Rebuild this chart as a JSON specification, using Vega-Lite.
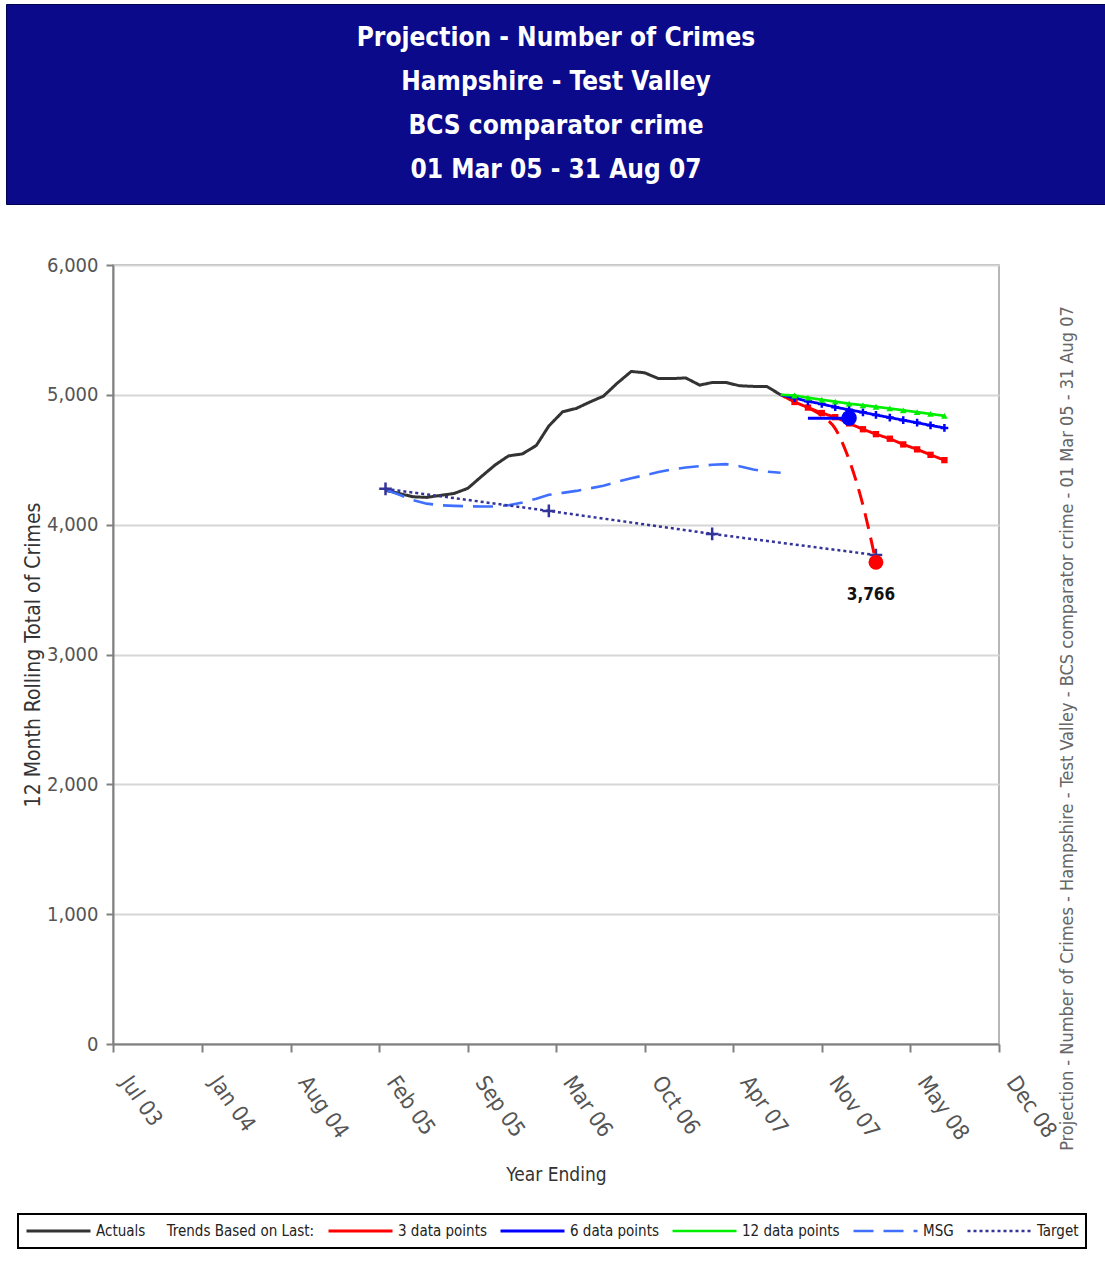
{
  "$schema": "https://vega.github.io/schema/vega-lite/v6.json",
  "padding": {"left": 5, "top": 3, "right": 0, "bottom": 0},
  "background": "white",
  "spacing": 61,
  "center": true,
  "bounds": "flush",
  "config": {"font": "DejaVu Sans Condensed"},
  "vconcat": [
    {
      "width": 1100,
      "height": 200,
      "view": {"fill": "#0a0a8a", "stroke": "#000050", "strokeWidth": 1},
      "data": {"values": [
        {"line": 1, "text": "Projection - Number of Crimes"},
        {"line": 2, "text": "Hampshire - Test Valley"},
        {"line": 3, "text": "BCS comparator crime"},
        {"line": 4, "text": "01 Mar 05 - 31 Aug 07"}
      ]},
      "mark": {"type": "text", "font": "DejaVu Sans Condensed", "fontWeight": "bold", "fontSize": 26, "color": "white", "baseline": "middle"},
      "encoding": {
        "y": {"field": "line", "type": "ordinal", "scale": {"type": "point", "padding": 0.77}, "axis": null},
        "text": {"field": "text"}
      }
    },
    {
      "width": 886,
      "height": 779,
      "view": {"stroke": "#a0a0a0", "strokeWidth": 1.5},
      "data": {
        "format": {"parse": {"date": "utc:'%Y-%m-%d'"}},
        "values": [
          {"series": "Actuals", "date": "2005-03-01", "value": 4265},
          {"series": "Actuals", "date": "2005-04-01", "value": 4240},
          {"series": "Actuals", "date": "2005-05-01", "value": 4215},
          {"series": "Actuals", "date": "2005-06-01", "value": 4210},
          {"series": "Actuals", "date": "2005-07-01", "value": 4225},
          {"series": "Actuals", "date": "2005-08-01", "value": 4240},
          {"series": "Actuals", "date": "2005-09-01", "value": 4280},
          {"series": "Actuals", "date": "2005-10-01", "value": 4370},
          {"series": "Actuals", "date": "2005-11-01", "value": 4460},
          {"series": "Actuals", "date": "2005-12-01", "value": 4530},
          {"series": "Actuals", "date": "2006-01-01", "value": 4545},
          {"series": "Actuals", "date": "2006-02-01", "value": 4610},
          {"series": "Actuals", "date": "2006-03-01", "value": 4760},
          {"series": "Actuals", "date": "2006-04-01", "value": 4870},
          {"series": "Actuals", "date": "2006-05-01", "value": 4895},
          {"series": "Actuals", "date": "2006-06-01", "value": 4945},
          {"series": "Actuals", "date": "2006-07-01", "value": 4990},
          {"series": "Actuals", "date": "2006-08-01", "value": 5090},
          {"series": "Actuals", "date": "2006-09-01", "value": 5180},
          {"series": "Actuals", "date": "2006-10-01", "value": 5170},
          {"series": "Actuals", "date": "2006-11-01", "value": 5125},
          {"series": "Actuals", "date": "2006-12-01", "value": 5125},
          {"series": "Actuals", "date": "2007-01-01", "value": 5130},
          {"series": "Actuals", "date": "2007-02-01", "value": 5075},
          {"series": "Actuals", "date": "2007-03-01", "value": 5095},
          {"series": "Actuals", "date": "2007-04-01", "value": 5095},
          {"series": "Actuals", "date": "2007-05-01", "value": 5070},
          {"series": "Actuals", "date": "2007-06-01", "value": 5065},
          {"series": "Actuals", "date": "2007-07-01", "value": 5065},
          {"series": "Actuals", "date": "2007-08-01", "value": 5000},

          {"series": "MSG", "date": "2005-03-01", "value": 4270},
          {"series": "MSG", "date": "2005-04-01", "value": 4230},
          {"series": "MSG", "date": "2005-05-01", "value": 4190},
          {"series": "MSG", "date": "2005-06-01", "value": 4162},
          {"series": "MSG", "date": "2005-07-01", "value": 4150},
          {"series": "MSG", "date": "2005-08-01", "value": 4145},
          {"series": "MSG", "date": "2005-09-01", "value": 4142},
          {"series": "MSG", "date": "2005-10-01", "value": 4140},
          {"series": "MSG", "date": "2005-11-01", "value": 4140},
          {"series": "MSG", "date": "2005-12-01", "value": 4150},
          {"series": "MSG", "date": "2006-01-01", "value": 4170},
          {"series": "MSG", "date": "2006-02-01", "value": 4200},
          {"series": "MSG", "date": "2006-03-01", "value": 4230},
          {"series": "MSG", "date": "2006-04-01", "value": 4245},
          {"series": "MSG", "date": "2006-05-01", "value": 4260},
          {"series": "MSG", "date": "2006-06-01", "value": 4280},
          {"series": "MSG", "date": "2006-07-01", "value": 4300},
          {"series": "MSG", "date": "2006-08-01", "value": 4330},
          {"series": "MSG", "date": "2006-09-01", "value": 4358},
          {"series": "MSG", "date": "2006-10-01", "value": 4380},
          {"series": "MSG", "date": "2006-11-01", "value": 4405},
          {"series": "MSG", "date": "2006-12-01", "value": 4425},
          {"series": "MSG", "date": "2007-01-01", "value": 4440},
          {"series": "MSG", "date": "2007-02-01", "value": 4450},
          {"series": "MSG", "date": "2007-03-01", "value": 4462},
          {"series": "MSG", "date": "2007-04-01", "value": 4466},
          {"series": "MSG", "date": "2007-05-01", "value": 4450},
          {"series": "MSG", "date": "2007-06-01", "value": 4425},
          {"series": "MSG", "date": "2007-07-01", "value": 4408},
          {"series": "MSG", "date": "2007-08-01", "value": 4400},

          {"series": "Target", "date": "2005-03-01", "value": 4276},
          {"series": "Target", "date": "2006-03-01", "value": 4106},
          {"series": "Target", "date": "2007-03-01", "value": 3929},
          {"series": "Target", "date": "2008-03-01", "value": 3766},

          {"series": "3 data points", "date": "2007-08-01", "value": 5000},
          {"series": "3 data points", "date": "2007-09-01", "value": 4945},
          {"series": "3 data points", "date": "2007-10-01", "value": 4902},
          {"series": "3 data points", "date": "2007-11-01", "value": 4860},
          {"series": "3 data points", "date": "2007-12-01", "value": 4828},
          {"series": "3 data points", "date": "2008-01-01", "value": 4780},
          {"series": "3 data points", "date": "2008-02-01", "value": 4735},
          {"series": "3 data points", "date": "2008-03-01", "value": 4697},
          {"series": "3 data points", "date": "2008-04-01", "value": 4662},
          {"series": "3 data points", "date": "2008-05-01", "value": 4618},
          {"series": "3 data points", "date": "2008-06-01", "value": 4580},
          {"series": "3 data points", "date": "2008-07-01", "value": 4538},
          {"series": "3 data points", "date": "2008-08-01", "value": 4497},

          {"series": "6 data points", "date": "2007-08-01", "value": 5000},
          {"series": "6 data points", "date": "2007-09-01", "value": 4975},
          {"series": "6 data points", "date": "2007-10-01", "value": 4950},
          {"series": "6 data points", "date": "2007-11-01", "value": 4930},
          {"series": "6 data points", "date": "2007-12-01", "value": 4905},
          {"series": "6 data points", "date": "2008-01-01", "value": 4885},
          {"series": "6 data points", "date": "2008-02-01", "value": 4865},
          {"series": "6 data points", "date": "2008-03-01", "value": 4845},
          {"series": "6 data points", "date": "2008-04-01", "value": 4825},
          {"series": "6 data points", "date": "2008-05-01", "value": 4805},
          {"series": "6 data points", "date": "2008-06-01", "value": 4785},
          {"series": "6 data points", "date": "2008-07-01", "value": 4765},
          {"series": "6 data points", "date": "2008-08-01", "value": 4745},

          {"series": "12 data points", "date": "2007-08-01", "value": 5000},
          {"series": "12 data points", "date": "2007-09-01", "value": 4995},
          {"series": "12 data points", "date": "2007-10-01", "value": 4978},
          {"series": "12 data points", "date": "2007-11-01", "value": 4962},
          {"series": "12 data points", "date": "2007-12-01", "value": 4948},
          {"series": "12 data points", "date": "2008-01-01", "value": 4932},
          {"series": "12 data points", "date": "2008-02-01", "value": 4920},
          {"series": "12 data points", "date": "2008-03-01", "value": 4908},
          {"series": "12 data points", "date": "2008-04-01", "value": 4895},
          {"series": "12 data points", "date": "2008-05-01", "value": 4881},
          {"series": "12 data points", "date": "2008-06-01", "value": 4867},
          {"series": "12 data points", "date": "2008-07-01", "value": 4853},
          {"series": "12 data points", "date": "2008-08-01", "value": 4838},

          {"series": "Trajectory", "date": "2007-10-01", "value": 4902},
          {"series": "Trajectory", "date": "2007-11-01", "value": 4840},
          {"series": "Trajectory", "date": "2007-12-01", "value": 4740},
          {"series": "Trajectory", "date": "2008-01-01", "value": 4500},
          {"series": "Trajectory", "date": "2008-02-01", "value": 4150},
          {"series": "Trajectory", "date": "2008-03-01", "value": 3710},

          {"series": "Blue segment", "date": "2007-10-01", "value": 4820},
          {"series": "Blue segment", "date": "2008-01-01", "value": 4820},
          {"series": "Blue dot", "date": "2008-01-01", "value": 4822},
          {"series": "Red dot", "date": "2008-03-01", "value": 3710, "label": "3,766"}
        ]
      },
      "encoding": {
        "x": {
          "field": "date",
          "type": "temporal",
          "scale": {"type": "utc", "domain": [{"year": 2003, "month": 7, "date": 1, "utc": true}, {"year": 2008, "month": 12, "date": 1, "utc": true}]},
          "axis": {
            "values": [
              {"year": 2003, "month": 7, "date": 1, "utc": true},
              {"year": 2004, "month": 1, "date": 16, "utc": true},
              {"year": 2004, "month": 8, "date": 1, "utc": true},
              {"year": 2005, "month": 2, "date": 15, "utc": true},
              {"year": 2005, "month": 9, "date": 1, "utc": true},
              {"year": 2006, "month": 3, "date": 16, "utc": true},
              {"year": 2006, "month": 10, "date": 1, "utc": true},
              {"year": 2007, "month": 4, "date": 16, "utc": true},
              {"year": 2007, "month": 11, "date": 1, "utc": true},
              {"year": 2008, "month": 5, "date": 16, "utc": true},
              {"year": 2008, "month": 12, "date": 1, "utc": true}
            ],
            "format": "%b %y",
            "labelAngle": 55,
            "labelAlign": "left",
            "labelBaseline": "middle",
            "labelFontSize": 22,
            "labelColor": "#555555",
            "labelPadding": 26,
            "labelOffset": 12,
            "labelFlush": false,
            "labelOverlap": false,
            "tickSize": 8,
            "tickWidth": 2,
            "tickColor": "#808080",
            "domainColor": "#808080",
            "domainWidth": 2,
            "grid": false,
            "title": "Year Ending",
            "titleFontSize": 19,
            "titleFontWeight": "normal",
            "titleColor": "#333333",
            "titlePadding": 22
          }
        }
      },
      "resolve": {"axis": {"y": "independent"}},
      "layer": [
        {
          "transform": [{"filter": {"field": "series", "oneOf": ["Actuals", "3 data points", "6 data points", "12 data points", "MSG", "Target"]}}],
          "mark": {"type": "line"},
          "encoding": {
            "y": {
              "field": "value", "type": "quantitative",
              "scale": {"domain": [0, 6000], "nice": false},
              "axis": {
                "orient": "left",
                "values": [0, 1000, 2000, 3000, 4000, 5000, 6000],
                "format": ",.0f",
                "labelFontSize": 20,
                "labelColor": "#555555",
                "labelPadding": 8,
                "tickSize": 7,
                "tickWidth": 2,
                "tickColor": "#808080",
                "domainColor": "#808080",
                "domainWidth": 2,
                "grid": true,
                "gridColor": "#d6d6d6",
                "gridWidth": 2,
                "title": "12 Month Rolling Total of Crimes",
                "titleFontSize": 21,
                "titleFontWeight": "normal",
                "titleColor": "#333333",
                "titlePadding": 3
              }
            },
            "color": {
              "field": "series", "type": "nominal",
              "scale": {
                "domain": ["Actuals", "3 data points", "6 data points", "12 data points", "MSG", "Target"],
                "range": ["#333333", "#ff0000", "#0000ff", "#00ee00", "#3f6fff", "#333399"]
              },
              "legend": {
                "orient": "none",
                "legendX": 12,
                "legendY": 1210,
                "direction": "horizontal",
                "title": null,
                "symbolType": "stroke",
                "symbolSize": 4096,
                "symbolStrokeWidth": 3.5,
                "clipHeight": 20,
                "labelFontSize": 15,
                "labelColor": "#222222",
                "labelOffset": 4,
                "labelLimit": 400,
                "columnPadding": 12,
                "padding": 7,
                "strokeColor": "#000000",
                "labelExpr": "datum.label == 'Actuals' ? 'Actuals\u00a0\u00a0\u00a0\u00a0\u00a0Trends Based on Last:' : datum.label",
                "encode": {"legend": {"update": {"strokeWidth": {"value": 2}}}}
              }
            },
            "strokeDash": {
              "field": "series", "type": "nominal",
              "scale": {
                "domain": ["Actuals", "3 data points", "6 data points", "12 data points", "MSG", "Target"],
                "range": [[1, 0], [1, 0], [1, 0], [1, 0], [20, 10], [3, 3]]
              }
            },
            "strokeWidth": {
              "field": "series", "type": "nominal",
              "scale": {
                "domain": ["Actuals", "3 data points", "6 data points", "12 data points", "MSG", "Target"],
                "range": [3, 2.5, 2.5, 2.5, 5, 2]
              },
              "legend": null
            }
          }
        },
        {
          "transform": [{"filter": "datum.series == '3 data points' && utcyear(datum.date) * 12 + utcmonth(datum.date) > 2007 * 12 + 7"}],
          "mark": {"type": "point", "shape": "square", "filled": true, "color": "#ff0000", "size": 40, "opacity": 1},
          "encoding": {"y": {"field": "value", "type": "quantitative", "axis": null}}
        },
        {
          "transform": [{"filter": "datum.series == '6 data points' && utcyear(datum.date) * 12 + utcmonth(datum.date) > 2007 * 12 + 7"}],
          "mark": {"type": "point", "shape": "M-1,0H1M0,-1V1", "filled": false, "color": "#0000ff", "size": 60, "strokeWidth": 2.5, "opacity": 1},
          "encoding": {"y": {"field": "value", "type": "quantitative", "axis": null}}
        },
        {
          "transform": [{"filter": "datum.series == '12 data points' && utcyear(datum.date) * 12 + utcmonth(datum.date) > 2007 * 12 + 7"}],
          "mark": {"type": "point", "shape": "triangle-up", "filled": true, "color": "#00ee00", "size": 45, "opacity": 1},
          "encoding": {"y": {"field": "value", "type": "quantitative", "axis": null}}
        },
        {
          "transform": [{"filter": "datum.series == 'Target'"}],
          "mark": {"type": "point", "shape": "M-1,0H1M0,-1V1", "filled": false, "color": "#333399", "size": 160, "strokeWidth": 2.5, "opacity": 1},
          "encoding": {"y": {"field": "value", "type": "quantitative", "axis": null}}
        },
        {
          "transform": [{"filter": "datum.series == 'Trajectory'"}],
          "mark": {"type": "line", "color": "#ff0000", "strokeWidth": 3, "strokeDash": [16, 9], "interpolate": "monotone"},
          "encoding": {"y": {"field": "value", "type": "quantitative", "axis": null}}
        },
        {
          "transform": [{"filter": "datum.series == 'Blue segment'"}],
          "mark": {"type": "line", "color": "#0000ff", "strokeWidth": 3},
          "encoding": {"y": {"field": "value", "type": "quantitative", "axis": null}}
        },
        {
          "transform": [{"filter": "datum.series == 'Blue dot'"}],
          "mark": {"type": "point", "shape": "circle", "filled": true, "color": "#0000ff", "size": 240, "opacity": 1},
          "encoding": {"y": {"field": "value", "type": "quantitative", "axis": null}}
        },
        {
          "transform": [{"filter": "datum.series == 'Red dot'"}],
          "mark": {"type": "point", "shape": "circle", "filled": true, "color": "#ff0000", "size": 220, "opacity": 1},
          "encoding": {"y": {"field": "value", "type": "quantitative", "axis": null}}
        },
        {
          "transform": [{"filter": "datum.series == 'Red dot'"}],
          "mark": {"type": "text", "dy": 33, "dx": -5, "fontSize": 17, "fontWeight": "bold", "color": "#111111", "font": "DejaVu Sans Condensed"},
          "encoding": {
            "text": {"field": "label"},
            "y": {
              "field": "value", "type": "quantitative",
              "axis": {
                "orient": "right",
                "labels": false,
                "ticks": false,
                "domain": false,
                "grid": false,
                "title": "Projection - Number of Crimes - Hampshire - Test Valley - BCS comparator crime - 01 Mar 05 - 31 Aug 07",
                "titleAngle": 270,
                "titleFontSize": 18,
                "titleFontWeight": "normal",
                "titleColor": "#666666",
                "titleX": 68,
                "titleY": 463,
                "titleAlign": "center",
                "titleBaseline": "middle"
              }
            }
          }
        }
      ]
    }
  ]
}
